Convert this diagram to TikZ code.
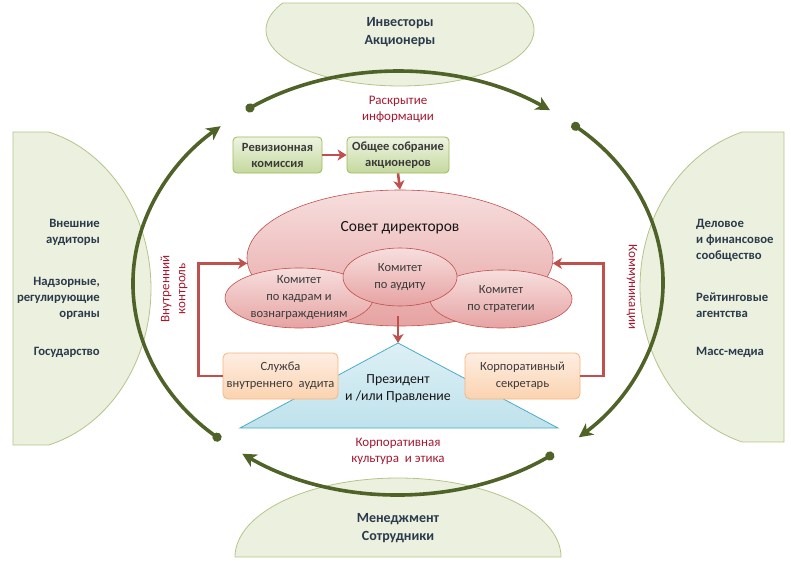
\documentclass[tikz,border=0pt]{standalone}
\usepackage{fontspec}
\setmainfont{Carlito}
\usetikzlibrary{shapes.geometric,arrows.meta}
\definecolor{gfill}{HTML}{EBF1DE}
\definecolor{gline}{HTML}{B5C48A}
\definecolor{arcg}{HTML}{4F6228}
\definecolor{navy}{HTML}{2B3A4C}
\definecolor{redtxt}{HTML}{A31A30}
\definecolor{redln}{HTML}{C0504D}
\definecolor{pinkA}{HTML}{F7DEDE}
\definecolor{pinkB}{HTML}{E6A3A2}
\definecolor{pinkline}{HTML}{C0504D}
\definecolor{boxgA}{HTML}{EEF4E2}
\definecolor{boxgB}{HTML}{C5D99E}
\definecolor{boxgline}{HTML}{9BBB59}
\definecolor{orA}{HTML}{FEEEE2}
\definecolor{orB}{HTML}{FBD3B0}
\definecolor{orline}{HTML}{F5B57F}
\definecolor{blueA}{HTML}{DDF0F5}
\definecolor{blueB}{HTML}{BFE2EC}
\definecolor{blueline}{HTML}{4BACC6}
\definecolor{dtxt}{HTML}{3A3A3A}
\definecolor{ktxt}{HTML}{151515}
\begin{document}
\begin{tikzpicture}[x=1pt,y=-1pt,
  greenshape/.style={fill=gfill, draw=gline, line width=0.8pt},
  outtxt/.style={font=\bfseries\fontsize{12.7}{16}\selectfont, text=navy, inner sep=0pt},
  bigtxt/.style={font=\bfseries\fontsize{14}{17.5}\selectfont, text=navy, inner sep=0pt, align=center},
  bigarc/.style={draw=arcg, line width=3.6pt, {Circle[length=9pt]}-{Stealth[length=14pt,width=14pt,inset=4pt]}},
  redarrow/.style={draw=redln, line width=2.6pt, -{Stealth[length=9pt,width=11pt,inset=2.5pt]}},
  redlbl/.style={font=\fontsize{13}{16}\selectfont, text=redtxt, align=center, inner sep=0pt},
  greenbox/.style={draw=boxgline, rounded corners=4pt, top color=boxgA, bottom color=boxgB, line width=0.8pt, minimum height=36pt, inner sep=0pt, font=\bfseries\fontsize{12.5}{16}\selectfont, text=dtxt, align=center},
  orbox/.style={draw=orline, rounded corners=5pt, top color=orA, bottom color=orB, line width=0.8pt, minimum width=115pt, minimum height=46pt, inner sep=0pt, font=\fontsize{12.5}{17}\selectfont, text=dtxt, align=center},
  pinkell/.style={ellipse, draw=pinkline, line width=0.6pt, top color=pinkA, bottom color=pinkB, inner sep=0pt},
  cmtxt/.style={font=\fontsize{12.5}{17}\selectfont, text=dtxt, align=center, inner sep=0pt}
]
\useasboundingbox (0,0) rectangle (791,564);
% outer green shapes
\path[greenshape] plot[domain=-28.8:208.8, samples=90] ({400+134*cos(\x)},{30+56*sin(\x)}) -- cycle;
\path[greenshape] (13,132) -- plot[domain=-75:75, samples=90] ({13+138*cos(\x)},{288.5+162*sin(\x)}) -- (13,445) -- cycle;
\path[greenshape] (784,132) -- plot[domain=-73:73, samples=90] ({784-144*cos(\x)},{287+162*sin(\x)}) -- (784,442) -- cycle;
\path[greenshape] plot[domain=180:360, samples=90] ({398+163*cos(\x)},{557+79*sin(\x)}) -- cycle;
% outer texts
\node[bigtxt] (inv) at (400,32) {Инвесторы\\Акционеры};
\node[bigtxt] (man) at (398,528) {Менеджмент\\Сотрудники};
\node[outtxt, align=right, anchor=east] (l1) at (100,232) {Внешние\\аудиторы};
\node[outtxt, align=right, anchor=east] (l2) at (100,298) {Надзорные,\\регулирующие\\органы};
\node[outtxt, align=right, anchor=east] (l3) at (100,352) {Государство};
\node[outtxt, align=left, anchor=west] (r1) at (696,240) {Деловое\\и финансовое\\сообщество};
\node[outtxt, align=left, anchor=west] (r2) at (696,305) {Рейтинговые\\агентства};
\node[outtxt, align=left, anchor=west] (r3) at (696,352) {Масс-медиа};
% big cycle arcs
\draw[bigarc] ({398+265*cos(235)},{283+211*sin(235)}) arc[start angle=-235, end angle=-305, x radius=265pt, y radius=211pt];
\draw[bigarc] ({398+265*cos(-49)},{283+211*sin(-49)}) arc[start angle=49, end angle=-47, x radius=265pt, y radius=211pt];
\draw[bigarc] ({398+265*cos(54)},{283+211*sin(54)}) arc[start angle=-54, end angle=-126, x radius=265pt, y radius=211pt];
\draw[bigarc] ({398+265*cos(132)},{283+211*sin(132)}) arc[start angle=-132, end angle=-228, x radius=265pt, y radius=211pt];
% red labels
\node[redlbl] (disc) at (398,109) {Раскрытие\\информации};
\node[redlbl] (cult) at (398,451) {Корпоративная\\культура \ и этика};
\node[redlbl, rotate=90] (ictl) at (174,289) {Внутренний\\контроль};
\node[redlbl, rotate=-90] (comm) at (632,287) {Коммуникации};
% top boxes
\node[greenbox, minimum width=89pt] (rev) at (277.5,155) {Ревизионная\\комиссия};
\node[greenbox, minimum width=102pt] (obs) at (398,155) {Общее собрание\\акционеров};
\draw[redarrow] (rev) -- (obs);
% board
\node[pinkell, minimum width=306pt, minimum height=136pt] (sovet) at (400,258) {};
\draw[redarrow] (obs.south) -- (sovet.north);
\node[font=\fontsize{15.5}{18}\selectfont, text=ktxt, inner sep=0pt] (sovt) at (400,228) {Совет директоров};
\node[pinkell, minimum width=148pt, minimum height=60pt] (kadr) at (299,298) {};
\node[pinkell, minimum width=142pt, minimum height=58pt] (strat) at (501,299) {};
\node[pinkell, minimum width=114pt, minimum height=58pt] (audit) at (400,277) {};
\node[cmtxt] at (kadr) {Комитет\\по кадрам и\\вознаграждениям};
\node[cmtxt] at (strat) {Комитет\\по стратегии};
\node[cmtxt] at (audit) {Комитет\\по аудиту};
% president triangle
\coordinate (apex) at (398,343);
\coordinate (bl) at (240,428);
\coordinate (br) at (558,428);
\path[draw=blueline, line width=0.8pt, top color=blueA, bottom color=blueB] (apex) -- (bl) -- (br) -- cycle;
\coordinate (sb) at (398,316);
\draw[redarrow] (sb) -- (apex);
\node[font=\fontsize{13.8}{17}\selectfont, text=ktxt, align=center, inner sep=0pt] (pres) at (398,389) {Президент\\и /или Правление};
% orange boxes
\node[orbox] (sl) at (280.5,376) {Служба\\внутреннего \ аудита};
\node[orbox] (sk) at (522.5,376) {Корпоративный\\секретарь};
\draw[redarrow] (sl.west) -- ++(-24,0) |- (sovet.182);
\draw[redarrow] (sk.east) -- ++(23,0) |- (sovet.-2);
\end{tikzpicture}
\end{document}
